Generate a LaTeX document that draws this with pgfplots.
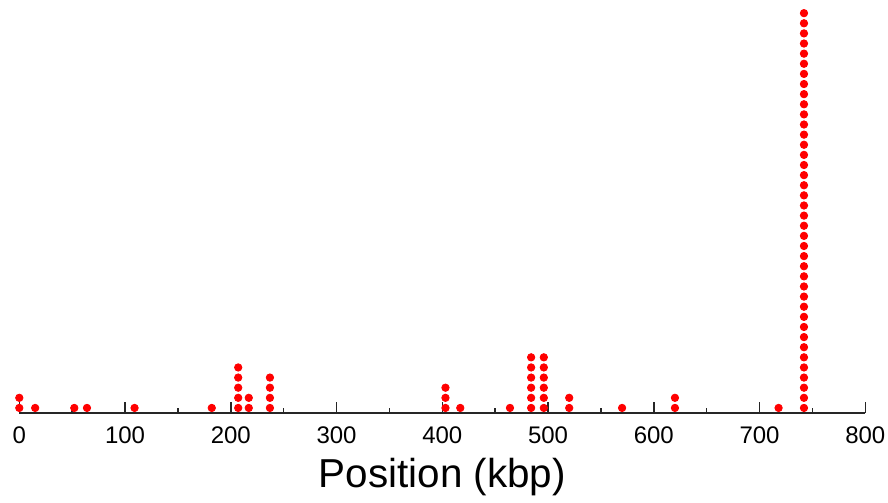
\documentclass[border=0pt]{standalone}
\usepackage{pgfplots}
\pgfplotsset{compat=1.18}
\usepackage{fontspec}
\setmainfont{Liberation Sans}

\begin{document}
\begin{tikzpicture}
\begin{axis}[
scale only axis,
width=423pt, height=206.5pt,
xmin=0, xmax=800,
ymin=0, ymax=40.8,
hide y axis,
axis x line=bottom,
x axis line style={-, line width=0.8pt, black!85},
xtick={0,100,...,800},
minor x tick num=1,
tick align=inside,
major tick length=5.5pt,
minor tick length=2.5pt,
every tick/.style={line width=0.7pt, black!85},
xticklabel style={font=\fontsize{12}{14}\selectfont, yshift=-3.5pt, inner xsep=0pt},
/pgf/number format/assume math mode=true,
xlabel={Position (kbp)},
xlabel style={font=\fontsize{20.2}{24}\selectfont},
clip=false,
]
\addplot[only marks, mark=*, mark size=1.85pt, color=red, mark options={fill=red, draw=red}]
coordinates {
(0,0.5)(0,1.5)
(15,0.5)
(52,0.5)
(64,0.5)
(109,0.5)
(182,0.5)
(207,0.5)(207,1.5)(207,2.5)(207,3.5)(207,4.5)
(217,0.5)(217,1.5)
(237,0.5)(237,1.5)(237,2.5)(237,3.5)
(403,0.5)(403,1.5)(403,2.5)
(417,0.5)
(464,0.5)
(484,0.5)(484,1.5)(484,2.5)(484,3.5)(484,4.5)(484,5.5)
(496,0.5)(496,1.5)(496,2.5)(496,3.5)(496,4.5)(496,5.5)
(520,0.5)(520,1.5)
(570,0.5)
(620,0.5)(620,1.5)
(718,0.5)
(742,0.5)(742,1.5)(742,2.5)(742,3.5)(742,4.5)(742,5.5)(742,6.5)(742,7.5)(742,8.5)(742,9.5)
(742,10.5)(742,11.5)(742,12.5)(742,13.5)(742,14.5)(742,15.5)(742,16.5)(742,17.5)(742,18.5)(742,19.5)
(742,20.5)(742,21.5)(742,22.5)(742,23.5)(742,24.5)(742,25.5)(742,26.5)(742,27.5)(742,28.5)(742,29.5)
(742,30.5)(742,31.5)(742,32.5)(742,33.5)(742,34.5)(742,35.5)(742,36.5)(742,37.5)(742,38.5)(742,39.5)
};
\end{axis}
\path (current axis.north west) +(-9.65pt,0pt) (current axis.south east) +(11.35pt,-44.5pt);
\end{tikzpicture}
\end{document}
